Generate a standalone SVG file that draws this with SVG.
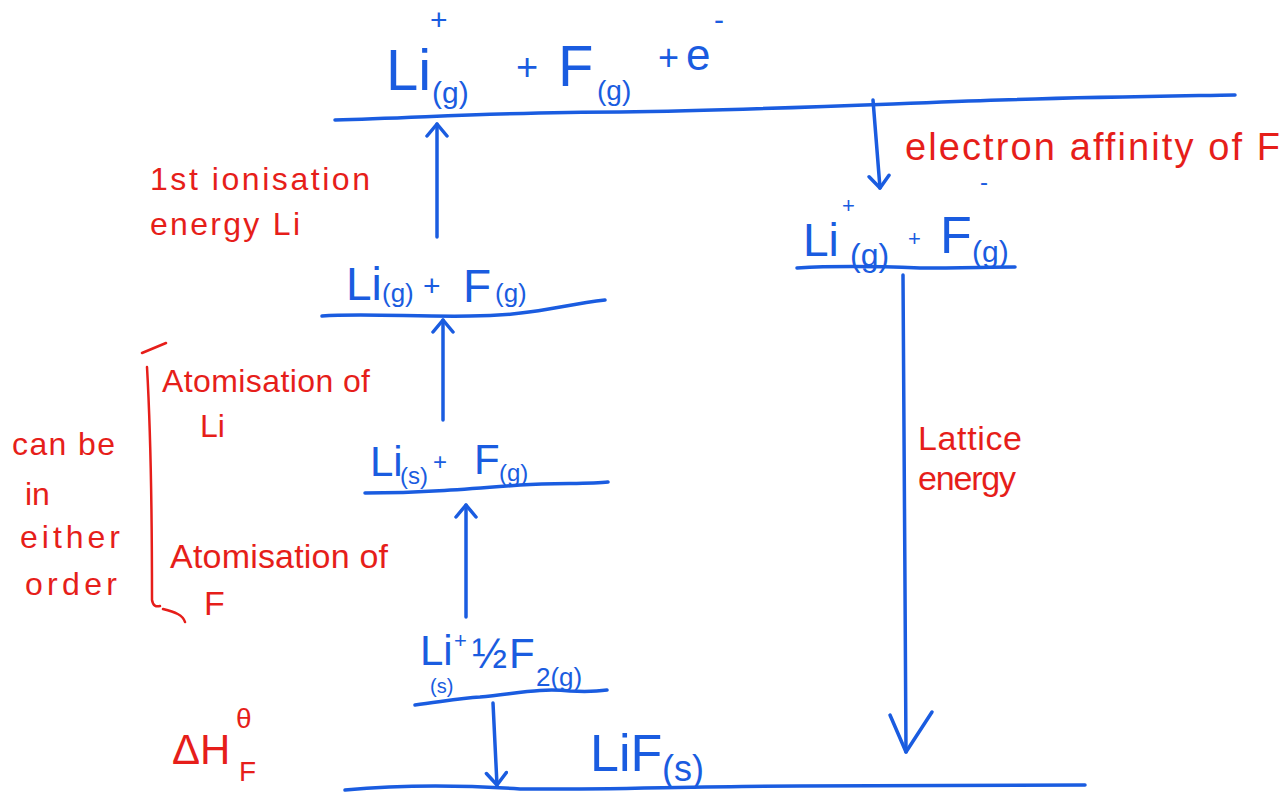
<svg xmlns="http://www.w3.org/2000/svg" width="1286" height="794" viewBox="0 0 1286 794">
<style>
.b{fill:#1a5ce0;font-family:"Liberation Sans",Arial,sans-serif}
.r{fill:#e61e1a;font-family:"Liberation Sans",Arial,sans-serif}
.ln{fill:none;stroke:#1a5ce0;stroke-width:3.5;stroke-linecap:round;stroke-linejoin:round}
.rl{fill:none;stroke:#e61e1a;stroke-width:2.5;stroke-linecap:round}
</style>
<defs>
<marker id="ah" markerWidth="24" markerHeight="24" refX="14" refY="12" orient="auto" markerUnits="userSpaceOnUse" viewBox="0 0 24 24">
<path d="M2,2 L14,12 L2,22" fill="none" stroke="#1a5ce0" stroke-width="3.5" stroke-linecap="round" stroke-linejoin="round"/>
</marker>
</defs>
<rect width="1286" height="794" fill="#fff"/>

<g id="level-top">
<path class="ln" d="M335,120 C420,118 500,112 620,112 C760,110 880,104 1000,100 C1100,97 1180,96 1235,95"/>
<text class="b" x="386" y="90" font-size="58">Li</text>
<text class="b" x="430" y="30" font-size="30">+</text>
<text class="b" x="432" y="103" font-size="30">(g)</text>
<text class="b" x="516" y="80" font-size="38">+</text>
<text class="b" x="558" y="86" font-size="58">F</text>
<text class="b" x="597" y="100" font-size="28">(g)</text>
<text class="b" x="658" y="70" font-size="36">+</text>
<text class="b" x="686" y="70" font-size="44">e</text>
<text class="b" x="714" y="30" font-size="30">-</text>
</g>

<g id="level-gas-atoms">
<path class="ln" d="M322,316 C360,313 420,317 470,316 C530,316 560,305 605,300"/>
<text class="b" x="346" y="300" font-size="46">Li</text>
<text class="b" x="382" y="302" font-size="26">(g)</text>
<text class="b" x="423" y="296" font-size="30">+</text>
<text class="b" x="463" y="302" font-size="46">F</text>
<text class="b" x="495" y="302" font-size="26">(g)</text>
</g>

<g id="level-li-s-f-g">
<path class="ln" d="M365,493 C420,493 470,489 520,485 C560,483 590,484 608,482"/>
<text class="b" x="370" y="476" font-size="42">Li</text>
<text class="b" x="400" y="484" font-size="24">(s)</text>
<text class="b" x="433" y="470" font-size="24">+</text>
<text class="b" x="474" y="474" font-size="42">F</text>
<text class="b" x="499" y="481" font-size="24">(g)</text>
</g>

<g id="level-elements">
<path class="ln" d="M415,705 C440,702 460,698 480,697 C520,693 540,688 570,691 C590,692 600,691 607,690"/>
<text class="b" x="420" y="665" font-size="42">Li</text>
<text class="b" x="430" y="693" font-size="20">(s)</text>
<text class="b" x="454" y="648" font-size="22">+</text>
<text class="b" x="472" y="668" font-size="42">½</text>
<text class="b" x="509" y="668" font-size="42">F</text>
<text class="b" x="536" y="686" font-size="26">2(g)</text>
</g>

<g id="level-lif">
<path class="ln" d="M345,790 C400,785 460,785 520,789 C600,790 700,786 800,786 C900,786 1000,785 1085,785"/>
<text class="b" x="590" y="771" font-size="52">LiF</text>
<text class="b" x="662" y="781" font-size="36">(s)</text>
</g>

<g id="level-ions">
<path class="ln" d="M797,268 C830,266 870,266 920,268 C960,268 990,267 1015,267"/>
<text class="b" x="803" y="256" font-size="46">Li</text>
<text class="b" x="842" y="213" font-size="22">+</text>
<text class="b" x="850" y="266" font-size="32">(g)</text>
<text class="b" x="908" y="246" font-size="22">+</text>
<text class="b" x="940" y="253" font-size="52">F</text>
<text class="b" x="980" y="190" font-size="24">-</text>
<text class="b" x="972" y="262" font-size="30">(g)</text>
</g>

<g id="connectors">
<path class="ln" d="M437,237 L437,124" marker-end="url(#ah)"/>
<path class="ln" d="M443,420 L443,320" marker-end="url(#ah)"/>
<path class="ln" d="M466,617 L466,505" marker-end="url(#ah)"/>
<path class="ln" d="M493,703 C495,740 496,765 497,785" marker-end="url(#ah)"/>
<path class="ln" d="M873,100 L880,188" marker-end="url(#ah)"/>
<path class="ln" d="M903,275 C904,400 905,600 906,752"/>
<path class="ln" d="M890,715 L906,752 L932,712"/>
</g>

<g id="labels">
<text class="r" x="150" y="190" font-size="32" textLength="220">1st ionisation</text>
<text class="r" x="150" y="235" font-size="32" textLength="150">energy Li</text>
<text class="r" x="905" y="160" font-size="38" textLength="375">electron affinity of F</text>
<text class="r" x="918" y="450" font-size="34" textLength="104">Lattice</text>
<text class="r" x="918" y="490" font-size="34" textLength="98">energy</text>
<text class="r" x="162" y="392" font-size="32" textLength="208">Atomisation of</text>
<text class="r" x="200" y="437" font-size="32">Li</text>
<text class="r" x="170" y="568" font-size="34" textLength="218">Atomisation of</text>
<text class="r" x="204" y="615" font-size="34">F</text>
<text class="r" x="12" y="455" font-size="32" textLength="103">can be</text>
<text class="r" x="25" y="505" font-size="32">in</text>
<text class="r" x="20" y="548" font-size="32" textLength="100">either</text>
<text class="r" x="25" y="595" font-size="32" textLength="92">order</text>
<text class="r" x="172" y="764" font-size="42">ΔH</text>
<text class="r" x="236" y="728" font-size="28">θ</text>
<text class="r" x="239" y="781" font-size="28">F</text>
<path class="rl" d="M142,353 L166,343 M147,367 C150,420 152,500 152,600 C153,606 156,607 160,606 M163,609 C175,612 183,615 185,622"/>
</g>
</svg>
